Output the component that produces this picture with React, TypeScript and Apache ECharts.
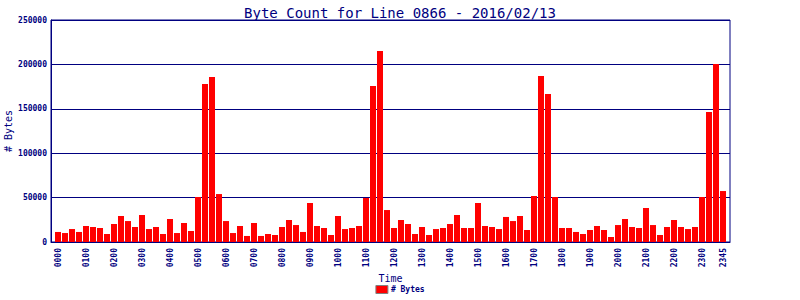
import React, { useEffect, useRef } from "react";
import * as echarts from "echarts";

const title = "Byte Count for Line 0866 - 2016/02/13";
const seriesName = "# Bytes";

// 96 fifteen-minute slots, 0000 .. 2345
const categories: string[] = [];
for (let h = 0; h < 24; h++) {
  for (let m = 0; m < 60; m += 15) {
    categories.push(String(h).padStart(2, "0") + String(m).padStart(2, "0"));
  }
}

const tickLabels = [
  "0000", "0100", "0200", "0300", "0400", "0500", "0600", "0700", "0800", "0900",
  "1000", "1100", "1200", "1300", "1400", "1500", "1600", "1700", "1800", "1900",
  "2000", "2100", "2200", "2300", "2345",
];

const bytes = [
  11300, 10100, 14600, 11300, 18000, 16900, 15800, 9000,
  20300, 29300, 23600, 16900, 30400, 14600, 16900, 9000,
  25900, 10100, 21400, 12400, 50700, 177900, 185800, 54000,
  23600, 10100, 18000, 6800, 21400, 6800, 9000, 7900,
  16900, 24800, 19100, 11300, 43900, 18000, 15800, 7900,
  29300, 14600, 15800, 18000, 49600, 175700, 215100, 36000,
  15800, 24800, 20300, 9000, 16900, 7900, 14600, 15800,
  20300, 30400, 15800, 15800, 43900, 18000, 16900, 14600,
  28200, 23600, 29300, 13500, 51800, 187000, 166700, 50700,
  15800, 15800, 11300, 9000, 13500, 18000, 13500, 5600,
  19100, 25900, 16900, 15800, 38300, 19100, 7900, 16900,
  24800, 16900, 14600, 16900, 50700, 146400, 200500, 57400,
];

const yTicks = [0, 50000, 100000, 150000, 200000, 250000];

const NAVY = "#000080";
const MONO = "'DejaVu Sans Mono', 'Liberation Mono', monospace";

export default function App() {
  const ref = useRef<HTMLDivElement>(null);
  useEffect(() => {
    document.body.style.margin = "0";
    if (!ref.current) return;
    const chart = echarts.init(ref.current, null, { renderer: "svg" });
    const tickIdx = tickLabels.map((l) => categories.indexOf(l));
    chart.setOption({
      animation: false,
      backgroundColor: "#ffffff",
      title: {
        text: title,
        left: "center",
        top: 1,
        textStyle: { color: NAVY, fontFamily: MONO, fontSize: 14, fontWeight: "normal" },
      },
      grid: {
        left: 51,
        right: 70,
        top: 20,
        bottom: 58,
        containLabel: false,
        outerBoundsMode: "none",
        show: true,
        borderColor: NAVY,
        borderWidth: 1,
        backgroundColor: "#ffffff",
      },
      legend: {
        bottom: 1,
        left: "center",
        itemWidth: 12,
        itemHeight: 8,
        itemGap: 4,
        icon: "rect",
        data: [seriesName],
        textStyle: { color: NAVY, fontFamily: MONO, fontSize: 8, fontWeight: "bold", padding: [0, 0, 0, -2] },
        itemStyle: { borderColor: "#808080", borderWidth: 1 },
      },
      xAxis: {
        type: "value",
        min: -1,
        max: categories.length,
        name: "Time",
        nameLocation: "middle",
        nameGap: 31,
        nameMoveOverlap: false,
        nameTextStyle: { color: NAVY, fontFamily: MONO, fontSize: 10 },
        axisLine: { show: true, onZero: false, lineStyle: { color: NAVY, width: 1 } },
        axisTick: { show: false },
        splitLine: { show: false },
        axisLabel: {
          customValues: tickIdx,
          rotate: 90,
          margin: 6,
          color: NAVY,
          fontFamily: MONO,
          fontSize: 8,
          fontWeight: "bold",
          formatter: (v: number) => categories[Math.round(v)] ?? "",
        },
      },
      yAxis: {
        type: "value",
        min: yTicks[0],
        max: yTicks[yTicks.length - 1],
        interval: yTicks[1] - yTicks[0],
        name: seriesName,
        nameLocation: "middle",
        nameGap: 38,
        nameRotate: 90,
        nameMoveOverlap: false,
        nameTextStyle: { color: NAVY, fontFamily: MONO, fontSize: 10 },
        axisLine: { show: true, onZero: false, lineStyle: { color: NAVY, width: 1 } },
        axisTick: { show: false },
        splitLine: { show: true, lineStyle: { color: NAVY, width: 1 } },
        axisLabel: {
          margin: 4,
          color: NAVY,
          fontFamily: MONO,
          fontSize: 8,
          fontWeight: "bold",
          formatter: (v: number) => String(v),
        },
      },
      series: [
        {
          name: seriesName,
          type: "bar",
          barWidth: 6,
          itemStyle: { color: "#ff0000" },
          data: bytes.map((v, i) => [i, v]),
        },
      ],
    });
    return () => chart.dispose();
  }, []);
  return <div ref={ref} style={{ width: 800, height: 300 }} />;
}
